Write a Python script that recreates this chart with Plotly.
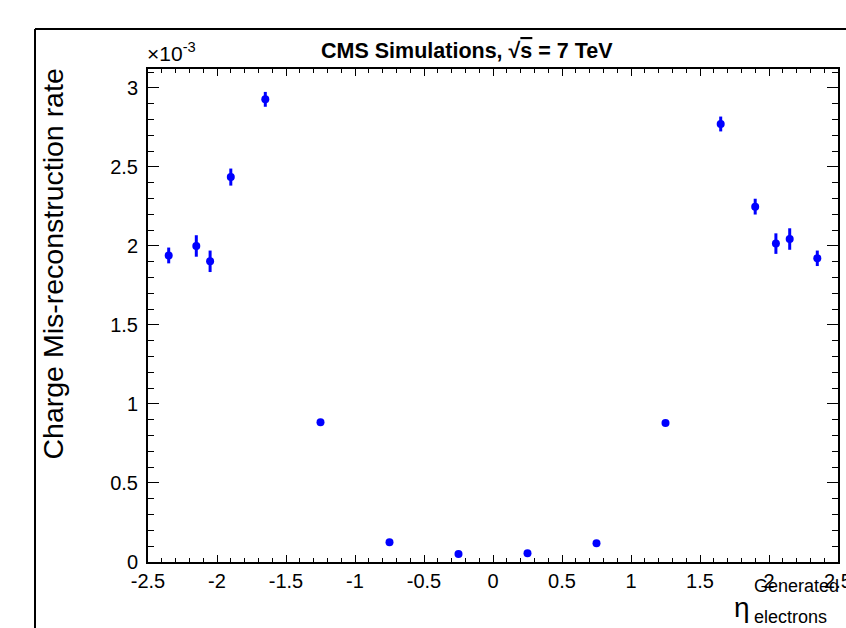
import plotly.graph_objects as go

# Data (charge mis-reconstruction rate in units of 1e-3)
eta_centers = [-2.35, -2.15, -2.05, -1.9, -1.65, -1.25, -0.75, -0.25,
               0.25, 0.75, 1.25, 1.65, 1.9, 2.05, 2.15, 2.35]
rate_e3 = [1.94, 2.00, 1.903, 2.436, 2.928, 0.885, 0.125, 0.050,
           0.055, 0.118, 0.880, 2.772, 2.249, 2.015, 2.044, 1.922]
rate_err_e3 = [0.050, 0.068, 0.068, 0.054, 0.047, 0.012, 0.005, 0.003,
               0.003, 0.005, 0.012, 0.047, 0.050, 0.065, 0.068, 0.049]

x_tick_vals = [-2.5, -2, -1.5, -1, -0.5, 0, 0.5, 1, 1.5, 2, 2.5]
x_tick_text = ["-2.5", "-2", "-1.5", "-1", "-0.5", "0", "0.5", "1", "1.5", "2", "2.5"]
y_tick_vals = [0, 0.5, 1, 1.5, 2, 2.5, 3]
y_tick_text = ["0", "0.5", "1", "1.5", "2", "2.5", "3"]

title_text = "<b>CMS Simulations, √<span style='text-decoration:overline'>s</span> = 7 TeV</b>"
ytitle = "Charge Mis-reconstruction rate"

FONT = "Liberation Sans, Arial, Helvetica, sans-serif"
W, H = 846, 628
L, R, T, B = 148, 8, 69, 66
pw, ph = W - L - R, H - T - B

def px(x):
    return (x - L) / pw

def py(y):
    return (H - B - y) / ph

fig = go.Figure()
fig.add_trace(go.Scatter(
    x=eta_centers, y=rate_e3, mode="markers",
    marker=dict(color="#0000ff", size=8, line=dict(width=0)),
    error_y=dict(type="data", array=rate_err_e3, visible=True,
                 color="#0000ff", thickness=3, width=0),
    showlegend=False, cliponaxis=False,
))

fig.update_layout(
    width=W, height=H,
    margin=dict(l=L, r=R, t=T, b=B, pad=0, autoexpand=False),
    paper_bgcolor="white", plot_bgcolor="white",
    font=dict(family=FONT, color="black", size=20),
    xaxis=dict(range=[-2.5, 2.5], tickmode="array", tickvals=x_tick_vals,
               ticktext=x_tick_text, ticklabeloverflow="allow", automargin=False,
               ticks="inside", ticklen=7, tickwidth=1, tickcolor="black",
               showline=True, linecolor="black", linewidth=2, mirror="ticks",
               showgrid=False, zeroline=False,
               minor=dict(dtick=0.1, tick0=-2.5, ticks="inside", ticklen=4,
                          tickwidth=1, tickcolor="black", showgrid=False),
               tickfont=dict(size=20)),
    yaxis=dict(range=[0, 3.12], tickmode="array", tickvals=y_tick_vals,
               ticktext=y_tick_text, ticklabelstandoff=4, automargin=False,
               ticks="inside", ticklen=11, tickwidth=1, tickcolor="black",
               showline=True, linecolor="black", linewidth=2, mirror="ticks",
               showgrid=False, zeroline=False,
               minor=dict(dtick=0.1, tick0=0, ticks="inside", ticklen=6,
                          tickwidth=1, tickcolor="black", showgrid=False),
               tickfont=dict(size=20)),
)

# outer canvas frame
fig.add_shape(type="line", xref="paper", yref="paper",
              x0=px(35), x1=px(35), y0=py(29), y1=py(660),
              line=dict(color="black", width=2))
fig.add_shape(type="line", xref="paper", yref="paper",
              x0=px(35), x1=px(870), y0=py(29), y1=py(29),
              line=dict(color="black", width=2))

ann = [
    dict(text=title_text, x=px(467), y=py(51), xanchor="center", yanchor="middle",
         font=dict(size=21.5)),
    dict(text="×10<sup>-3</sup>", x=px(145), y=py(67), xanchor="left", yanchor="bottom",
         font=dict(size=21)),
    dict(text=ytitle, x=px(52), y=py(67), xanchor="center", yanchor="top",
         textangle=-90, font=dict(size=28.5)),
    dict(text="η", x=px(742), y=py(607), xanchor="center", yanchor="middle",
         font=dict(size=28)),
    dict(text="Generated", x=px(752), y=py(586), xanchor="left", yanchor="middle",
         font=dict(size=18)),
    dict(text="electrons", x=px(752), y=py(617), xanchor="left", yanchor="middle",
         font=dict(size=18)),
]
for a in ann:
    a.update(xref="paper", yref="paper", showarrow=False)
    fig.add_annotation(**a)

fig.write_html("out.html")
